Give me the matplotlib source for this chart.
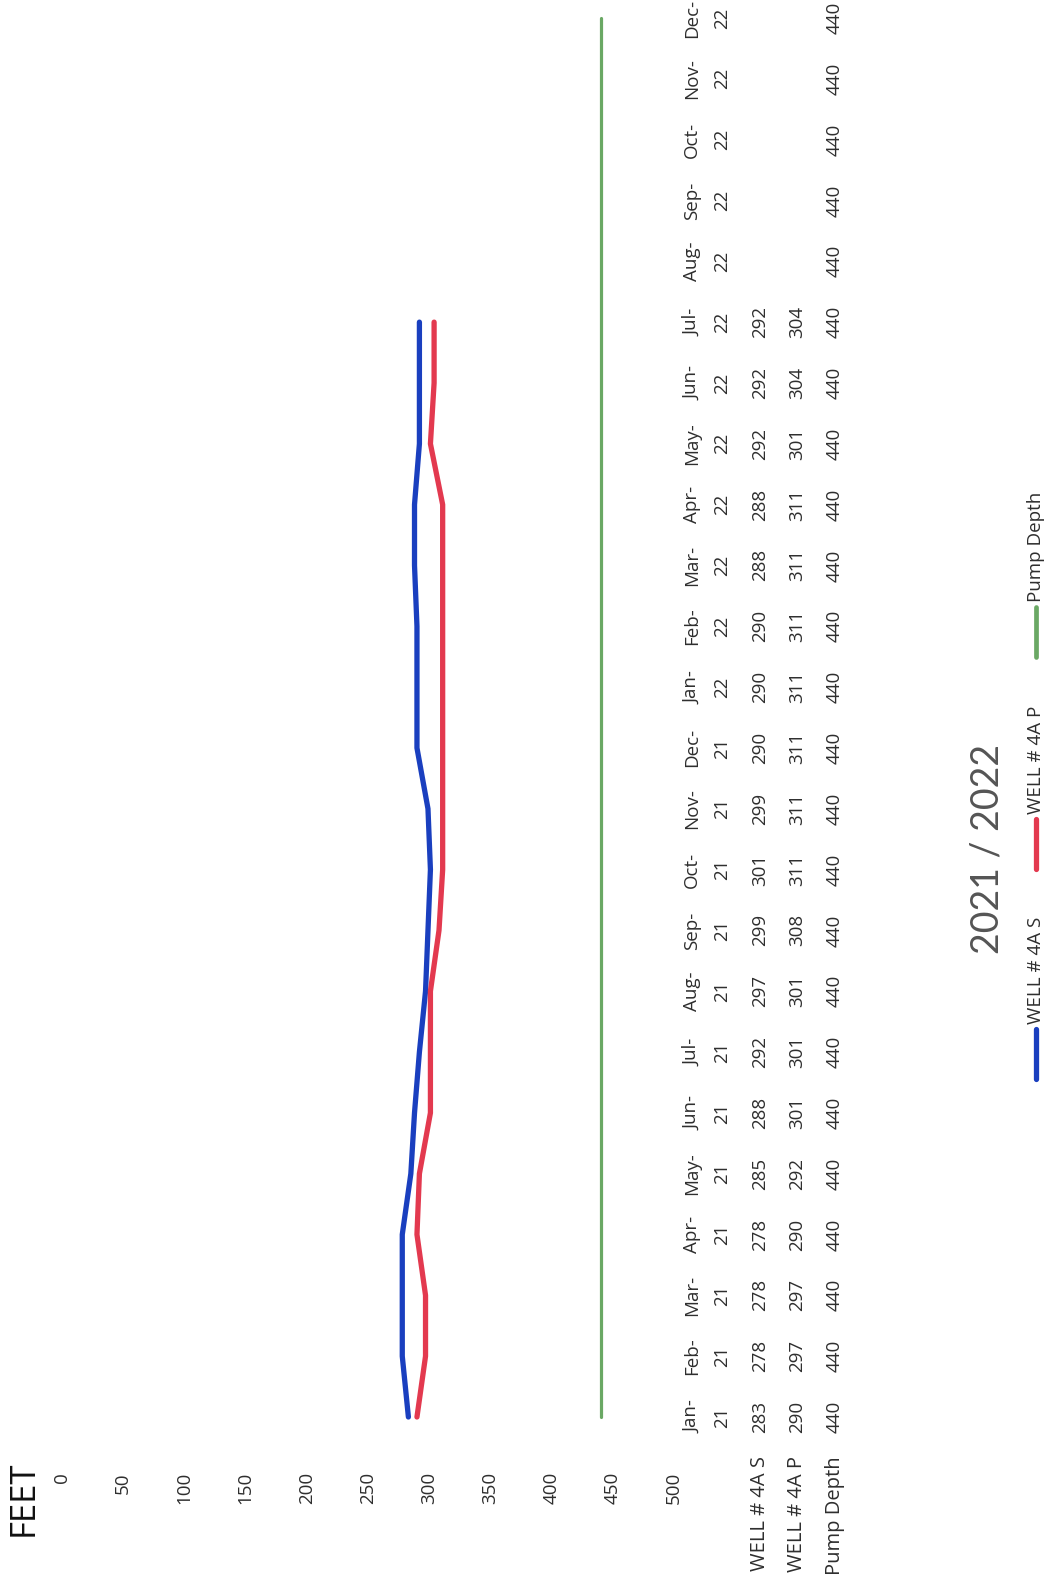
import matplotlib
matplotlib.use('Agg')
import matplotlib.pyplot as plt
from matplotlib.lines import Line2D
from matplotlib.transforms import blended_transform_factory
import numpy as np

# ---------------- data ----------------
categories = ['Jan-21', 'Feb-21', 'Mar-21', 'Apr-21', 'May-21', 'Jun-21',
              'Jul-21', 'Aug-21', 'Sep-21', 'Oct-21', 'Nov-21', 'Dec-21',
              'Jan-22', 'Feb-22', 'Mar-22', 'Apr-22', 'May-22', 'Jun-22',
              'Jul-22', 'Aug-22', 'Sep-22', 'Oct-22', 'Nov-22', 'Dec-22']
well_4a_s = [283, 278, 278, 278, 285, 288, 292, 297, 299, 301, 299, 290,
             290, 290, 288, 288, 292, 292, 292, None, None, None, None, None]
well_4a_p = [290, 297, 297, 290, 292, 301, 301, 301, 308, 311, 311, 311,
             311, 311, 311, 311, 301, 304, 304, None, None, None, None, None]
pump_depth = [440] * 24
series_names = ['WELL # 4A S', 'WELL # 4A P', 'Pump Depth']
feet_ticks = [0, 50, 100, 150, 200, 250, 300, 350, 400, 450, 500]
axis_title = 'FEET'
chart_title = '2021 / 2022'

# ---------------- style ----------------
colors = ['#1a3fbf', '#e3394f', '#6aa864']
widths = [3.8, 3.8, 2.3]
FONT = 'Open Sans'
TXT = '#2e2e2e'
plt.rcParams['font.family'] = [FONT, 'DejaVu Sans']

W, H = 1047, 1589
fig = plt.figure(figsize=(W / 100, H / 100), dpi=100)
fig.patch.set_facecolor('white')


def fx(px):
    return px / W


def fy(py):  # py measured from the top of the image
    return 1 - py / H


# plot area (chart is drawn rotated: value axis horizontal, months vertical)
x0_px, x1_px = 62, 674          # 0 ft and 500 ft
yfirst_px, ylast_px = 1417, 18  # first and last month
n = len(categories)
pm = (yfirst_px - ylast_px) / (n - 1)
ax = fig.add_axes([fx(x0_px), fy(yfirst_px + pm / 2),
                   fx(x1_px) - fx(x0_px),
                   fy(ylast_px - pm / 2) - fy(yfirst_px + pm / 2)])
ax.set_xlim(feet_ticks[0], feet_ticks[-1])
ax.set_ylim(-0.5, n - 0.5)
ax.axis('off')

idx = np.arange(n)
for vals, c, lw in zip([well_4a_s, well_4a_p, pump_depth], colors, widths):
    v = np.array([np.nan if x is None else x for x in vals], dtype=float)
    ax.plot(v, idx, color=c, lw=lw, solid_capstyle='round',
            solid_joinstyle='round', clip_on=False)

# value-axis tick labels
tr_xdata = blended_transform_factory(ax.transData, fig.transFigure)
for t in feet_ticks:
    ax.text(t, fy(1472), str(t), transform=tr_xdata, rotation=90,
            ha='center', va='top', fontsize=13.5, color=TXT)

# axis title
fig.text(fx(24), fy(1498), axis_title, rotation=90, ha='center', va='center',
         fontsize=25, color='#111111')

# data table
tr_ydata = blended_transform_factory(fig.transFigure, ax.transData)
for i, cat in enumerate(categories):
    mon, yr = cat.split('-')
    ax.text(fx(692), i, mon + '-', transform=tr_ydata, rotation=90,
            ha='center', va='center', fontsize=13.5, color=TXT)
    ax.text(fx(722), i, yr, transform=tr_ydata, rotation=90,
            ha='center', va='center', fontsize=13.5, color=TXT)
row_x = [760, 797, 835]
for vals, rx in zip([well_4a_s, well_4a_p, pump_depth], row_x):
    for i, v in enumerate(vals):
        if v is None:
            continue
        ax.text(fx(rx), i, str(v), transform=tr_ydata, rotation=90,
                ha='center', va='center', fontsize=13.5, color=TXT)
for name, rx in zip(series_names, row_x):
    fig.text(fx(rx), fy(1456), name, rotation=90, ha='center', va='top',
             fontsize=14.5, color=TXT)

# chart title
fig.text(fx(988), fy(849), chart_title, rotation=90, ha='center', va='center',
         fontsize=27, fontweight='normal', family=['Lato', 'DejaVu Sans'],
         color='#555555')

# legend
leg_x = 1036
key_bottoms = [1079, 869, 657]
key_len = 50
for name, c, lw, kb in zip(series_names, colors, widths, key_bottoms):
    fig.add_artist(Line2D([fx(leg_x), fx(leg_x)], [fy(kb), fy(kb - key_len)],
                          transform=fig.transFigure, color=c, lw=max(lw, 3.4),
                          solid_capstyle='round'))
    fig.text(fx(leg_x), fy(kb - key_len - 5), name, rotation=90,
             ha='center', va='bottom', fontsize=13.5, color=TXT)

fig.savefig('out.png', dpi=100, facecolor='white')
